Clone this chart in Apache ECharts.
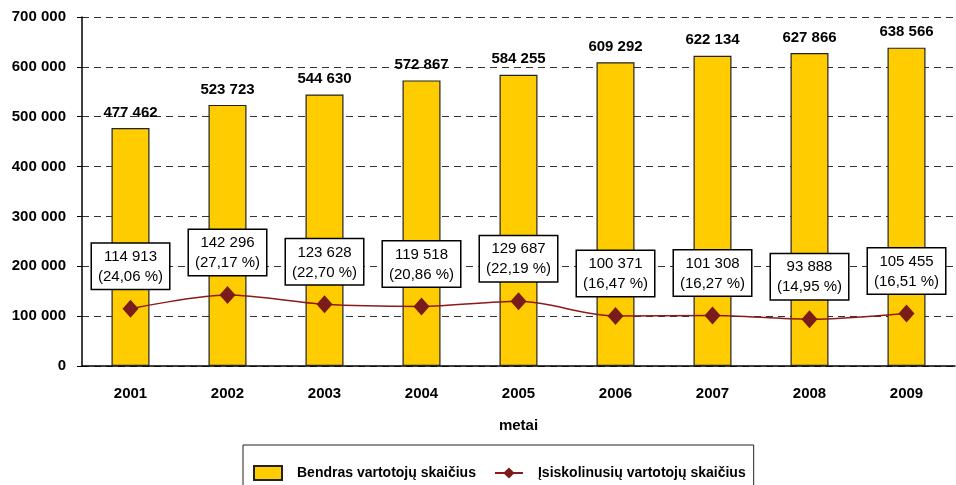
<!DOCTYPE html>
<html>
<head>
<meta charset="utf-8">
<script src="https://cdn.jsdelivr.net/npm/echarts@6/dist/echarts.min.js"></script>
<style>
  html, body { margin: 0; padding: 0; background: #fff; }
  #chart { width: 956px; height: 485px; }
</style>
</head>
<body>
<div id="chart"></div>
<script>
const years = ["2001", "2002", "2003", "2004", "2005", "2006", "2007", "2008", "2009"];
const totalUsers = [477462, 523723, 544630, 572867, 584255, 609292, 622134, 627866, 638566];
const debtUsers = [114913, 142296, 123628, 119518, 129687, 100371, 101308, 93888, 105455];
const debtShare = ["24,06", "27,17", "22,70", "20,86", "22,19", "16,47", "16,27", "14,95", "16,51"];

const FONT = '"Liberation Sans", Arial, sans-serif';

// 477462 -> "477 462"
const fmt = (v) => String(v).replace(/\B(?=(\d{3})+(?!\d))/g, " ");

const chart = echarts.init(document.getElementById("chart"));
const option = {
  animation: false,
  textStyle: { fontFamily: FONT },
  grid: { left: 82, right: 1, top: 17, bottom: 119 },
  legend: {
    left: 243,
    top: 445,
    padding: [20, 8, 20, 10],
    borderColor: "#222",
    borderWidth: 1,
    itemGap: 18,
    itemWidth: 28,
    itemHeight: 14,
    textStyle: { fontFamily: FONT, fontWeight: "bold", fontSize: 14, color: "#000", padding: [0, 0, 0, 10] },
    data: [
      { name: "Bendras vartotojų skaičius", icon: "rect" },
      { name: "Įsiskolinusių vartotojų skaičius" },
    ],
  },
  xAxis: {
    type: "category",
    data: years,
    name: "metai",
    nameLocation: "middle",
    nameGap: 52,
    nameTextStyle: { fontFamily: FONT, fontWeight: "bold", fontSize: 15, color: "#000" },
    axisLine: { lineStyle: { color: "#000", width: 1.5 } },
    axisTick: { length: 7, lineStyle: { color: "#000" } },
    axisLabel: { fontFamily: FONT, fontWeight: "bold", fontSize: 15, color: "#000", margin: 20 },
  },
  yAxis: {
    type: "value",
    min: 0,
    max: 700000,
    interval: 100000,
    axisLine: { show: true, lineStyle: { color: "#000", width: 1.5 } },
    axisTick: { show: true, length: 5, lineStyle: { color: "#000" } },
    axisLabel: {
      fontFamily: FONT, fontWeight: "bold", fontSize: 15, color: "#000", margin: 16,
      formatter: (v) => fmt(v),
    },
    splitLine: { lineStyle: { color: "#333", type: [7, 5], width: 1.2 } },
  },
  series: [
    {
      name: "Bendras vartotojų skaičius",
      type: "bar",
      data: totalUsers,
      barWidth: 38,
      itemStyle: { color: "#FFCC00", borderColor: "#222", borderWidth: 1.2 },
      label: {
        show: true,
        position: "top",
        distance: 8,
        fontFamily: FONT,
        fontWeight: "bold",
        fontSize: 15,
        color: "#000",
        formatter: (p) => fmt(p.value),
      },
    },
    {
      name: "Įsiskolinusių vartotojų skaičius",
      type: "line",
      data: debtUsers,
      smooth: 0.3,
      symbol: "diamond",
      symbolSize: [16, 18],
      z: 5,
      lineStyle: { color: "#8B1A1A", width: 1.5 },
      itemStyle: { color: "#7B1C1C" },
      label: {
        show: true,
        position: "top",
        distance: 11,
        fontFamily: FONT,
        fontSize: 15,
        lineHeight: 20,
        color: "#000",
        backgroundColor: "#fff",
        borderColor: "#000",
        borderWidth: 1.5,
        padding: [3, 6, 2, 6],
        formatter: (p) => fmt(p.value) + "\n(" + debtShare[p.dataIndex] + " %)",
      },
    },
  ],
};
chart.setOption(option);
</script>
</body>
</html>
